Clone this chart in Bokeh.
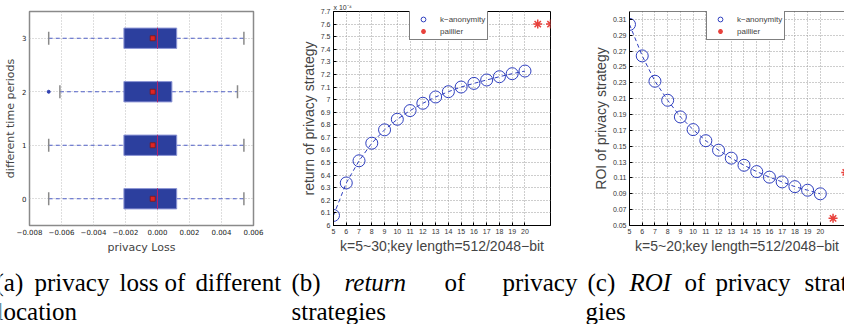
import math
from bokeh.plotting import figure
from bokeh.layouts import row, column
from bokeh.models import Range1d, FixedTicker, Legend, LegendItem, Span
from bokeh.core.properties import value
from bokeh.embed import file_html
from bokeh.resources import INLINE

# ---------------- data: (a) privacy loss per time period ----------------
periods = [0, 1, 2, 3]
box_q1 = [-0.0021, -0.0021, -0.0021, -0.0021]
box_q3 = [0.0012, 0.0012, 0.0009, 0.0012]
box_median = [0.0, 0.0, 0.0, 0.0]
box_mean = [-0.0003, -0.0003, -0.0003, -0.0003]
whisker_low = [-0.0068, -0.0068, -0.0061, -0.0068]
whisker_high = [0.0054, 0.0054, 0.0050, 0.0054]
outlier_period = [2]
outlier_value = [-0.0068]
a_xticks = [-0.008, -0.006, -0.004, -0.002, 0.0, 0.002, 0.004, 0.006]
a_xlabels = ["\u22120.008", "\u22120.006", "\u22120.004", "\u22120.002", "0.000", "0.002", "0.004", "0.006"]
a_yticks = [0, 1, 2, 3]

# ---------------- data: (b) return of privacy strategies (x 1e-4) ----------------
k_values = [5, 6, 7, 8, 9, 10, 11, 12, 13, 14, 15, 16, 17, 18, 19, 20]
return_k = [6.08, 6.338, 6.514, 6.654, 6.76, 6.844, 6.913, 6.971, 7.021, 7.063,
            7.100, 7.129, 7.156, 7.182, 7.206, 7.227]
paillier_x = [21, 22]
return_paillier = [7.6, 7.6]
b_yticks = [6.0, 6.1, 6.2, 6.3, 6.4, 6.5, 6.6, 6.7, 6.8, 6.9, 7.0, 7.1, 7.2, 7.3, 7.4, 7.5, 7.6, 7.7]
b_ylabels = ["6", "6.1", "6.2", "6.3", "6.4", "6.5", "6.6", "6.7", "6.8", "6.9",
             "7", "7.1", "7.2", "7.3", "7.4", "7.5", "7.6", "7.7"]

# ---------------- data: (c) ROI of privacy strategies ----------------
roi_k = [0.3037, 0.264, 0.232, 0.208, 0.187, 0.171, 0.157, 0.145, 0.135, 0.126,
         0.118, 0.111, 0.105, 0.099, 0.0945, 0.090]
roi_paillier = [0.059, 0.117]
c_yticks = [0.05, 0.07, 0.09, 0.11, 0.13, 0.15, 0.17, 0.19, 0.21, 0.23, 0.25, 0.27, 0.29, 0.31]
c_ylabels = ["0.05", "0.07", "0.09", "0.11", "0.13", "0.15", "0.17", "0.19", "0.21",
             "0.23", "0.25", "0.27", "0.29", "0.31"]

# ---------------- captions (sub-figure captions below the panels) ----------------
cap_words = ["(a)", "privacy", "loss", "of", "different", "(b)", "return", "of", "privacy",
             "(c)", "ROI", "of", "privacy", "strate-", "location", "strategies", "gies"]
cap_italic = [False, False, False, False, False, False, True, False, False,
              False, True, False, False, False, False, False, False]
cap_x = [-5, 34, 119, 164, 195, 291, 344, 444, 502, 587, 629, 684, 715, 804, -4, 291, 585]
cap_line = [1, 1, 1, 1, 1, 1, 1, 1, 1, 1, 1, 1, 1, 1, 2, 2, 2]

BLUE = "#2f3fbf"
RED = "#e8413c"
SANS = "Liberation Sans"

# ======================= panel (a) =======================
pa = figure(width=290, height=256, x_range=Range1d(-0.008, 0.006), y_range=Range1d(-0.5, 3.5),
            output_backend="svg", toolbar_location=None,
            min_border_left=29, min_border_right=37, min_border_top=6, min_border_bottom=26)
pa.outline_line_color = "#8a8a8a"
pa.outline_line_width = 1.5
pa.xaxis.ticker = FixedTicker(ticks=a_xticks)
pa.xaxis.major_label_overrides = dict(zip(a_xticks, a_xlabels))
pa.yaxis.ticker = FixedTicker(ticks=a_yticks)
for ax in (pa.xaxis[0], pa.yaxis[0]):
    ax.axis_line_color = None
    ax.major_tick_out = 0
    ax.major_tick_in = 0
    ax.minor_tick_out = 0
    ax.minor_tick_in = 0
    ax.major_label_text_font = "DejaVu Sans"
    ax.major_label_text_font_size = "7px"
    ax.major_label_text_color = "#222222"
    ax.axis_label_text_font = "DejaVu Sans"
    ax.axis_label_text_font_size = "11px"
    ax.axis_label_text_font_style = "normal"
    ax.major_label_standoff = 3
    ax.axis_label_standoff = 3
pa.xaxis.axis_label = "privacy Loss"
pa.yaxis.axis_label = "different time periods"
pa.yaxis.axis_label_standoff = 2
pa.grid.grid_line_color = "#bdbdbd"
pa.grid.grid_line_dash = "1 2"

pa.segment(x0=whisker_low, y0=periods, x1=box_q1, y1=periods, line_color="#5060c8",
           line_dash="4 3", line_width=1)
pa.segment(x0=box_q3, y0=periods, x1=whisker_high, y1=periods, line_color="#5060c8",
           line_dash="4 3", line_width=1)
pa.scatter(x=whisker_low, y=periods, marker="dash", angle=math.pi / 2, size=13,
           line_color="#8a8a8a", line_width=1.5)
pa.scatter(x=whisker_high, y=periods, marker="dash", angle=math.pi / 2, size=13,
           line_color="#8a8a8a", line_width=1.5)
pa.hbar(y=periods, left=box_q1, right=box_q3, height=0.38, fill_color="#2c3f9e",
        line_color="#8e97d6", line_width=1)
pa.scatter(x=box_median, y=periods, marker="dash", angle=math.pi / 2, size=21,
           line_color="#b0206a", line_width=1)
pa.scatter(x=box_mean, y=periods, marker="square", size=5, fill_color="#e02424",
           line_color="#7a1a1a", line_width=0.8)
pa.scatter(x=outlier_value, y=outlier_period, marker="circle", size=3, fill_color="#3040b0",
           line_color="#3040b0")


def matlab_axes(p, yticks, ylabels, xlabel, ylabel):
    p.xaxis.ticker = FixedTicker(ticks=k_values)
    p.yaxis.ticker = FixedTicker(ticks=yticks)
    p.yaxis.major_label_overrides = dict(zip(yticks, ylabels))
    for ax in (p.xaxis[0], p.yaxis[0]):
        ax.axis_line_color = "black"
        ax.axis_line_width = 1
        ax.major_tick_out = 0
        ax.major_tick_in = 3
        ax.minor_tick_out = 0
        ax.minor_tick_in = 0
        ax.major_tick_line_color = "black"
        ax.major_label_text_font = SANS
        ax.major_label_text_font_size = "7px"
        ax.major_label_text_color = "#333333"
        ax.axis_label_text_font = SANS
        ax.axis_label_text_font_size = "14px"
        ax.axis_label_text_font_style = "normal"
        ax.major_label_standoff = 3
        ax.axis_label_standoff = 1
    p.xaxis.axis_label = xlabel
    p.yaxis.axis_label = ylabel
    p.grid.grid_line_color = "#9a9a9a"
    p.grid.grid_line_dash = "1 2"


def add_legend(p, r1, r2, loc):
    leg = Legend(items=[LegendItem(label="k\u2212anonymity", renderers=[r1]),
                        LegendItem(label="paillier", renderers=[r2])],
                 location=loc, orientation="vertical",
                 label_text_font=SANS, label_text_font_size="8px",
                 glyph_width=22, glyph_height=12, label_height=12, label_standoff=6,
                 spacing=0, padding=2, margin=0,
                 border_line_color="black", border_line_width=1.5,
                 background_fill_color="white", background_fill_alpha=1)
    p.add_layout(leg)


# ======================= panel (b) =======================
pb = figure(width=290, height=256, x_range=Range1d(5, 22), y_range=Range1d(6.0, 7.7),
            output_backend="svg", toolbar_location=None, title="x 10\u207b\u2074",
            min_border_left=43, min_border_right=30, min_border_top=11, min_border_bottom=30)
pb.title.text_font = SANS
pb.title.text_font_size = "7px"
pb.title.text_font_style = "normal"
pb.title.text_color = "#333333"
pb.title.align = "left"
pb.title.standoff = 2
pb.outline_line_color = "black"
matlab_axes(pb, b_yticks, b_ylabels, "k=5~30;key length=512/2048\u2212bit", "return of privacy strategy")
pb.line(k_values, return_k, line_color=BLUE, line_dash="4 3", line_width=1)
rb1 = pb.scatter(k_values, return_k, marker="circle", size=12, fill_color=None,
                 line_color=BLUE, line_width=1)
rb2 = pb.scatter(paillier_x, return_paillier, marker="asterisk", size=9,
                 line_color=RED, line_width=1.5)
add_legend(pb, rb1, rb2, (76, 185))

# ======================= panel (c) =======================
pc = figure(width=264, height=256, x_range=Range1d(5, 21.9), y_range=Range1d(0.05, 0.32),
            output_backend="svg", toolbar_location=None,
            min_border_left=49, min_border_right=0, min_border_top=11, min_border_bottom=30)
pc.outline_line_color = None
matlab_axes(pc, c_yticks, c_ylabels, "k=5~20;key length=512/2048\u2212bit", "ROI of privacy strategy")
# top border of the (cropped) MATLAB box
pc.add_layout(Span(location=pc.y_range.end, dimension="width", line_color="black", line_width=1))
pc.line(k_values, roi_k, line_color=BLUE, line_dash="4 3", line_width=1)
rc1 = pc.scatter(k_values, roi_k, marker="circle", size=12, fill_color=None,
                 line_color=BLUE, line_width=1)
rc2 = pc.scatter(paillier_x, roi_paillier, marker="asterisk", size=9,
                 line_color=RED, line_width=1.5)
add_legend(pc, rc1, rc2, (77, 185))

# ======================= captions =======================
cap = figure(width=844, height=68, x_range=Range1d(0, 844), y_range=Range1d(68, 0),
             output_backend="svg", toolbar_location=None, x_axis_type=None, y_axis_type=None,
             min_border=0)
cap.outline_line_color = None
cap.grid.visible = False
line_base = {1: 26, 2: 55}
for italic in (False, True):
    xs = [x for x, it in zip(cap_x, cap_italic) if it == italic]
    ys = [line_base[l] for l, it in zip(cap_line, cap_italic) if it == italic]
    ws = [w for w, it in zip(cap_words, cap_italic) if it == italic]
    cap.text(x=xs, y=ys, text=ws, text_font=value("Liberation Serif"), text_font_size="25px",
             text_font_style="italic" if italic else "normal", text_color="black",
             text_align="left", text_baseline="alphabetic")

layout = column(row(pa, pb, pc), cap)
open("out.html", "w").write(file_html(layout, INLINE))
